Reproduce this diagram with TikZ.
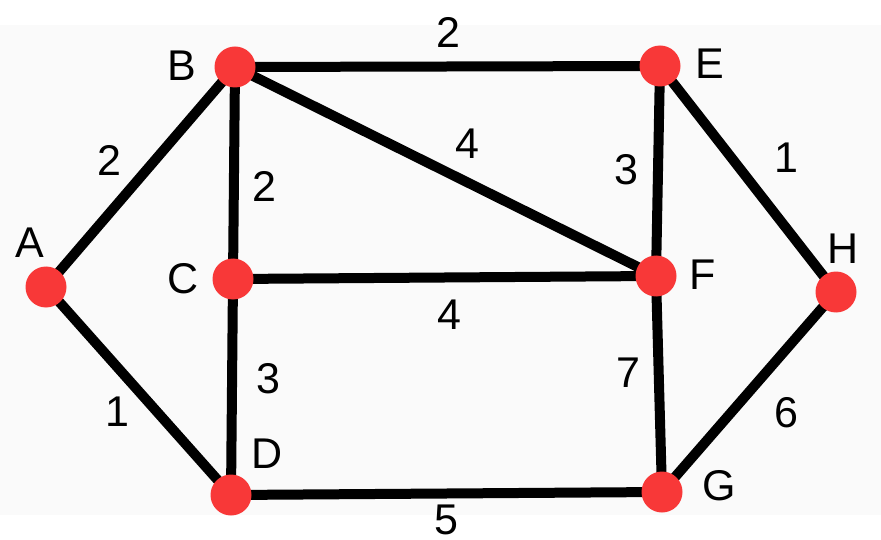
\documentclass[tikz,border=0pt]{standalone}
\usepackage{fontspec}
\setmainfont{Liberation Sans}
\definecolor{vred}{RGB}{248,56,56}
\definecolor{bgray}{RGB}{250,250,250}
\tikzset{
  vert/.style={circle,fill=vred,inner sep=0pt,minimum size=41pt},
  lbl/.style={inner sep=0pt,font=\fontsize{43}{43}\selectfont},
  edge/.style={line width=10pt,black}
}
\begin{document}
\begin{tikzpicture}[x=1pt,y=-1pt]
\useasboundingbox (0,0) rectangle (881,540);
\fill[white] (0,0) rectangle (881,540);
\fill[bgray] (0,25) rectangle (881,515);
% vertices (coordinates)
\coordinate (A) at (46,287);
\coordinate (B) at (235,67);
\coordinate (C) at (233,279);
\coordinate (D) at (231,495);
\coordinate (E) at (660,66);
\coordinate (F) at (656,276);
\coordinate (G) at (662,492);
\coordinate (H) at (836,292);
% edges
\draw[edge] (A) -- (B);
\draw[edge] (A) -- (D);
\draw[edge] (B) -- (E);
\draw[edge] (B) -- (C);
\draw[edge] (B) -- (F);
\draw[edge] (C) -- (F);
\draw[edge] (C) -- (D);
\draw[edge] (E) -- (F);
\draw[edge] (E) -- (H);
\draw[edge] (F) -- (G);
\draw[edge] (D) -- (G);
\draw[edge] (G) -- (H);
% vertex dots
\node[vert] (nA) at (A) {};
\node[vert] (nB) at (B) {};
\node[vert] (nC) at (C) {};
\node[vert] (nD) at (D) {};
\node[vert] (nE) at (E) {};
\node[vert] (nF) at (F) {};
\node[vert] (nG) at (G) {};
\node[vert] (nH) at (H) {};
% vertex labels
\node[lbl] (lA) at (30,243) {A};
\node[lbl] (lB) at (182,66) {B};
\node[lbl] (lC) at (183,279) {C};
\node[lbl] (lD) at (267,454) {D};
\node[lbl] (lE) at (710,64) {E};
\node[lbl] (lF) at (703,275) {F};
\node[lbl] (lG) at (719,486) {G};
\node[lbl] (lH) at (843,249) {H};
% weights
\node[lbl] (wBE) at (448,32) {2};
\node[lbl] (wAB) at (109,160) {2};
\node[lbl] (wBC) at (264,186) {2};
\node[lbl] (wBF) at (467,144) {4};
\node[lbl] (wEF) at (626,170) {3};
\node[lbl] (wEH) at (786,158) {1};
\node[lbl] (wCF) at (449,315) {4};
\node[lbl] (wCD) at (268,379) {3};
\node[lbl] (wFG) at (628,373) {7};
\node[lbl] (wAD) at (117,412) {1};
\node[lbl] (wGH) at (786,413) {6};
\node[lbl] (wDG) at (446,520) {5};
\end{tikzpicture}
\end{document}
